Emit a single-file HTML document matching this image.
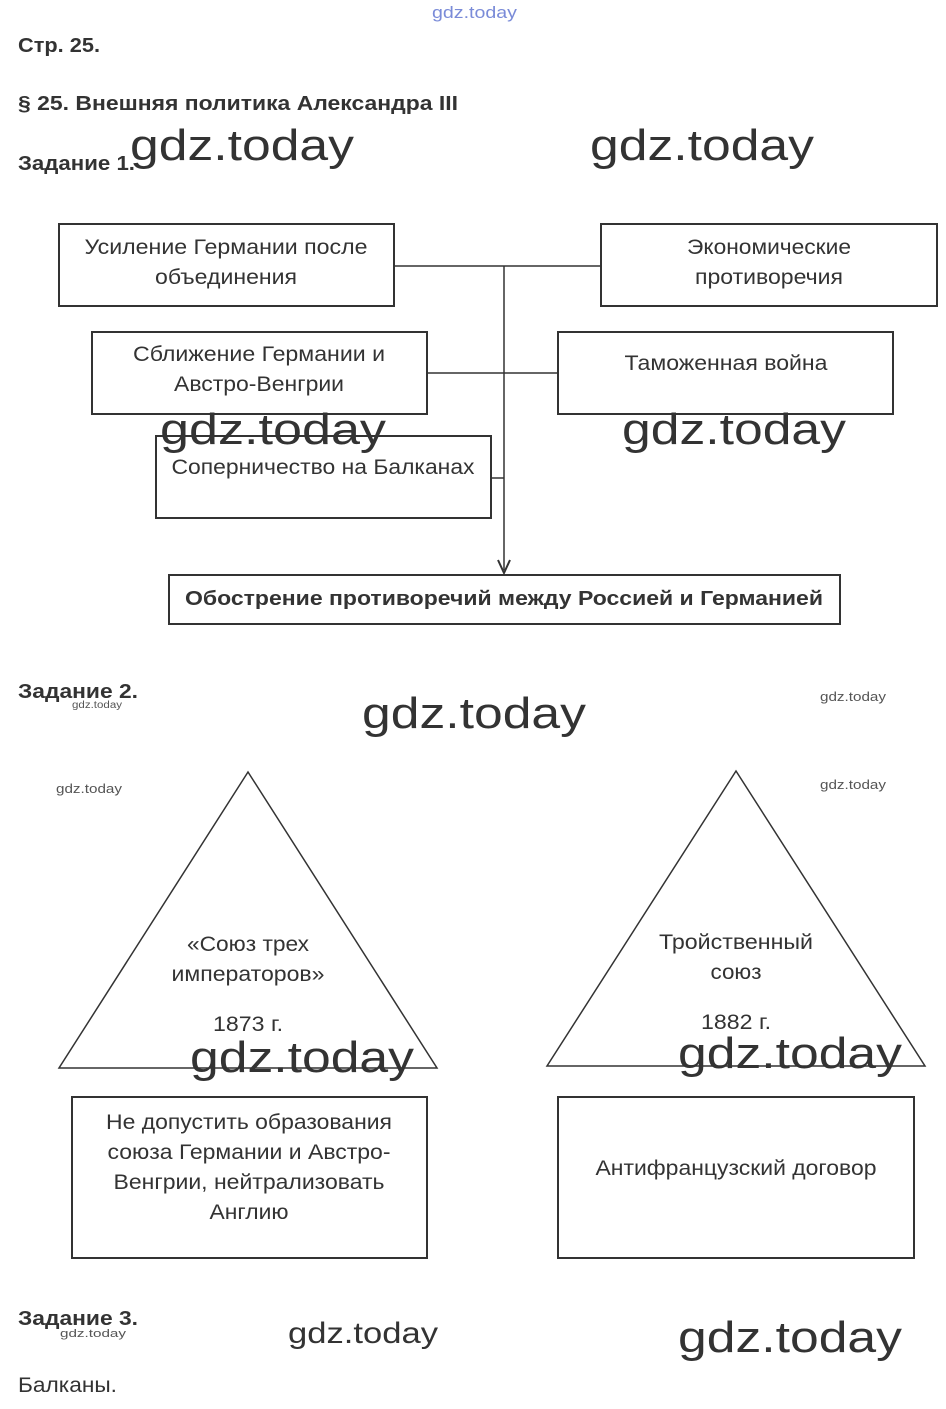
<!DOCTYPE html>
<html><head><meta charset="utf-8"><style>
html,body{margin:0;padding:0;background:#fff;}
svg{display:block;}
text{font-family:"Liberation Sans",Arial,sans-serif;}
.h{font-weight:bold;font-size:20px;fill:#333;}
.t{font-size:21px;fill:#333;}
.w{font-size:44px;fill:#333;}
.ws{font-size:13px;fill:#555;}
</style></head><body>
<svg width="946" height="1409" viewBox="0 0 946 1409" xmlns="http://www.w3.org/2000/svg">
<text x="432" y="18" textLength="85" lengthAdjust="spacingAndGlyphs" style="font-size:17px;fill:#7a8bd8">gdz.today</text>
<text class="h" x="18" y="52" textLength="82" lengthAdjust="spacingAndGlyphs">Стр. 25.</text>
<text class="h" x="18" y="110" textLength="440" lengthAdjust="spacingAndGlyphs">§ 25. Внешняя политика Александра III</text>
<text class="h" x="18" y="170" textLength="117" lengthAdjust="spacingAndGlyphs">Задание 1.</text>

<g fill="none" stroke="#333" stroke-width="2">
<rect x="59" y="224" width="335" height="82"/>
<rect x="601" y="224" width="336" height="82"/>
<rect x="92" y="332" width="335" height="82"/>
<rect x="558" y="332" width="335" height="82"/>
<rect x="156" y="436" width="335" height="82"/>
<rect x="169" y="575" width="671" height="49"/>
<line x1="394" y1="266" x2="601" y2="266" stroke-width="1.5"/>
<line x1="427" y1="373" x2="558" y2="373" stroke-width="1.5"/>
<line x1="491" y1="478" x2="504" y2="478" stroke-width="1.5"/>
<line x1="504" y1="266" x2="504" y2="570" stroke-width="1.5"/>
</g>
<polyline points="498,560 504,573 510,560" fill="none" stroke="#333" stroke-width="2"/>
<g class="t" text-anchor="middle">
<text x="226" y="254" textLength="283" lengthAdjust="spacingAndGlyphs">Усиление Германии после</text>
<text x="226" y="284" textLength="142" lengthAdjust="spacingAndGlyphs">объединения</text>
<text x="769" y="254" textLength="164" lengthAdjust="spacingAndGlyphs">Экономические</text>
<text x="769" y="284" textLength="148" lengthAdjust="spacingAndGlyphs">противоречия</text>
<text x="259" y="361" textLength="252" lengthAdjust="spacingAndGlyphs">Сближение Германии и</text>
<text x="259" y="391" textLength="170" lengthAdjust="spacingAndGlyphs">Австро-Венгрии</text>
<text x="726" y="370" textLength="203" lengthAdjust="spacingAndGlyphs">Таможенная война</text>
<text x="323" y="474" textLength="303" lengthAdjust="spacingAndGlyphs">Соперничество на Балканах</text>
</g>
<text class="h" x="504" y="605" text-anchor="middle" textLength="638" lengthAdjust="spacingAndGlyphs">Обострение противоречий между Россией и Германией</text>

<text class="h" x="18" y="698" textLength="120" lengthAdjust="spacingAndGlyphs">Задание 2.</text>
<g fill="none" stroke="#333" stroke-width="1.5">
<polygon points="248,772 59,1068 437,1068"/>
<polygon points="736,771 547,1066 925,1066"/>
<rect x="72" y="1097" width="355" height="161" stroke-width="2"/>
<rect x="558" y="1097" width="356" height="161" stroke-width="2"/>
</g>
<g class="t" text-anchor="middle">
<text x="248" y="951" textLength="122" lengthAdjust="spacingAndGlyphs">«Союз трех</text>
<text x="248" y="981" textLength="153" lengthAdjust="spacingAndGlyphs">императоров»</text>
<text x="248" y="1031" textLength="70" lengthAdjust="spacingAndGlyphs">1873 г.</text>
<text x="736" y="949" textLength="154" lengthAdjust="spacingAndGlyphs">Тройственный</text>
<text x="736" y="979" textLength="51" lengthAdjust="spacingAndGlyphs">союз</text>
<text x="736" y="1029" textLength="70" lengthAdjust="spacingAndGlyphs">1882 г.</text>
<text x="249" y="1129" textLength="286" lengthAdjust="spacingAndGlyphs">Не допустить образования</text>
<text x="249" y="1159" textLength="283" lengthAdjust="spacingAndGlyphs">союза Германии и Австро-</text>
<text x="249" y="1189" textLength="271" lengthAdjust="spacingAndGlyphs">Венгрии, нейтрализовать</text>
<text x="249" y="1219" textLength="79" lengthAdjust="spacingAndGlyphs">Англию</text>
<text x="736" y="1175" textLength="281" lengthAdjust="spacingAndGlyphs">Антифранцузский договор</text>
</g>

<text class="h" x="18" y="1325" textLength="120" lengthAdjust="spacingAndGlyphs">Задание 3.</text>
<text class="t" x="18" y="1392" textLength="99" lengthAdjust="spacingAndGlyphs">Балканы.</text>

<g class="w">
<text x="130" y="160" textLength="224" lengthAdjust="spacingAndGlyphs">gdz.today</text>
<text x="590" y="160" textLength="224" lengthAdjust="spacingAndGlyphs">gdz.today</text>
<text x="160" y="444" textLength="226" lengthAdjust="spacingAndGlyphs">gdz.today</text>
<text x="622" y="444" textLength="224" lengthAdjust="spacingAndGlyphs">gdz.today</text>
<text x="362" y="728" textLength="224" lengthAdjust="spacingAndGlyphs">gdz.today</text>
<text x="190" y="1072" textLength="224" lengthAdjust="spacingAndGlyphs">gdz.today</text>
<text x="678" y="1068" textLength="224" lengthAdjust="spacingAndGlyphs">gdz.today</text>
<text x="678" y="1352" textLength="224" lengthAdjust="spacingAndGlyphs">gdz.today</text>
</g>
<text x="288" y="1343" textLength="150" lengthAdjust="spacingAndGlyphs" style="font-size:30px;fill:#333">gdz.today</text>
<g class="ws">
<text x="72" y="708" textLength="50" lengthAdjust="spacingAndGlyphs" style="font-size:10px">gdz.today</text>
<text x="820" y="701" textLength="66" lengthAdjust="spacingAndGlyphs">gdz.today</text>
<text x="56" y="793" textLength="66" lengthAdjust="spacingAndGlyphs">gdz.today</text>
<text x="820" y="789" textLength="66" lengthAdjust="spacingAndGlyphs">gdz.today</text>
<text x="60" y="1337" textLength="66" lengthAdjust="spacingAndGlyphs" style="font-size:11px">gdz.today</text>
</g>
</svg>
</body></html>
